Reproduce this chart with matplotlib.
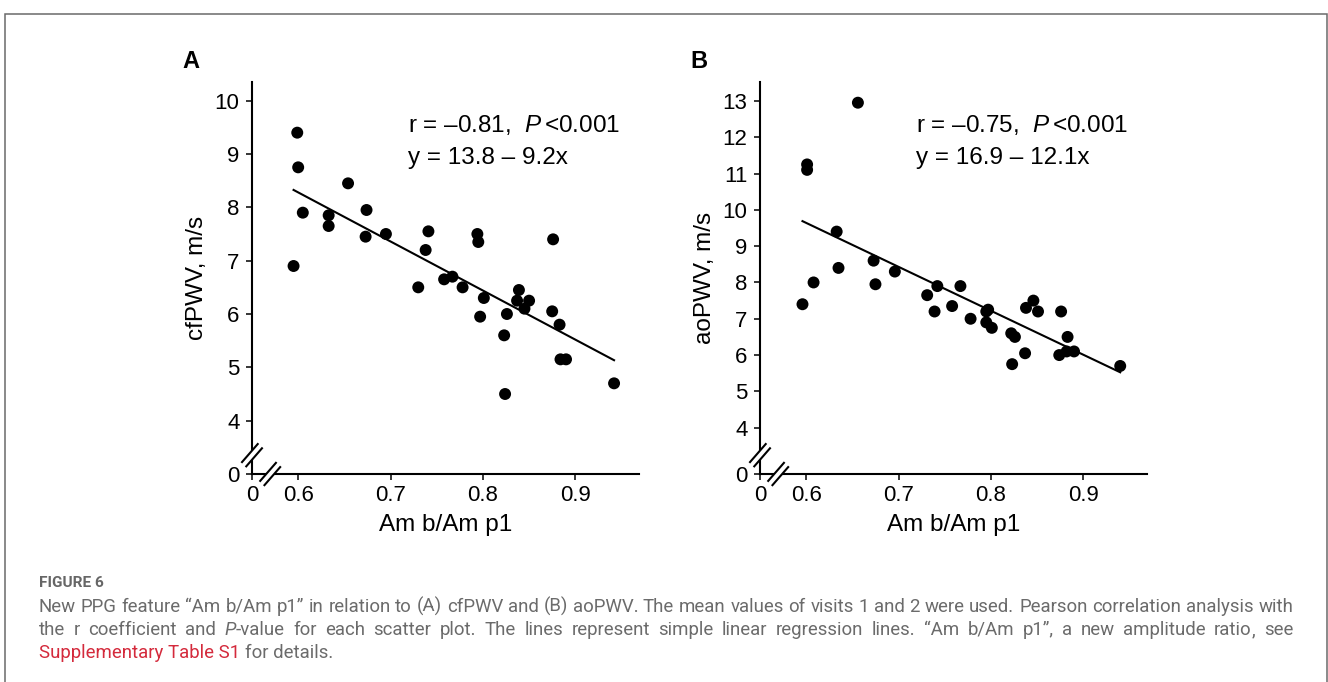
import matplotlib
matplotlib.use("Agg")
import matplotlib.pyplot as plt
import numpy as np
from matplotlib.lines import Line2D
from matplotlib.patches import Rectangle, Polygon

plt.rcParams['font.family'] = ['Liberation Sans', 'DejaVu Sans']
plt.rcParams['mathtext.fontset'] = 'custom'
plt.rcParams['mathtext.rm'] = 'Liberation Sans'
plt.rcParams['mathtext.it'] = 'Liberation Sans:italic'

# ---------------- data ----------------
ratio_a = [0.595, 0.599, 0.600, 0.605, 0.633, 0.633, 0.654, 0.674, 0.673, 0.695,
           0.730, 0.738, 0.741, 0.758, 0.767, 0.778, 0.794, 0.795, 0.797, 0.801,
           0.823, 0.826, 0.824, 0.837, 0.839, 0.845, 0.850, 0.876, 0.875, 0.883,
           0.884, 0.890, 0.942]
cfpwv = [6.90, 9.40, 8.75, 7.90, 7.85, 7.65, 8.45, 7.95, 7.45, 7.50,
         6.50, 7.20, 7.55, 6.65, 6.70, 6.50, 7.50, 7.35, 5.95, 6.30,
         5.60, 6.00, 4.50, 6.25, 6.45, 6.10, 6.25, 7.40, 6.05, 5.80,
         5.15, 5.15, 4.70]

ratio_b = [0.596, 0.601, 0.601, 0.608, 0.633, 0.635, 0.656, 0.673, 0.675, 0.696,
           0.731, 0.739, 0.742, 0.758, 0.767, 0.778, 0.795, 0.797, 0.795, 0.801,
           0.822, 0.826, 0.823, 0.837, 0.838, 0.846, 0.851, 0.876, 0.874, 0.883,
           0.882, 0.890, 0.940]
aopwv = [7.40, 11.25, 11.10, 8.00, 9.40, 8.40, 12.95, 8.60, 7.95, 8.30,
         7.65, 7.20, 7.90, 7.35, 7.90, 7.00, 7.20, 7.25, 6.90, 6.75,
         6.60, 6.50, 5.75, 6.05, 7.30, 7.50, 7.20, 7.20, 6.00, 6.50,
         6.10, 6.10, 5.70]

fit_a = (13.8, -9.2)     # intercept, slope
fit_b = (16.9, -12.1)
stats_a = ("–0.81", "<0.001")
stats_b = ("–0.75", "<0.001")

x_ticks = [0.6, 0.7, 0.8, 0.9]
y_ticks_a = [4, 5, 6, 7, 8, 9, 10]
y_ticks_b = [4, 5, 6, 7, 8, 9, 10, 11, 12, 13]

W, H = 1328, 682
fig = plt.figure(figsize=(W / 100, H / 100), dpi=100)
fig.patch.set_facecolor('white')

# border frame
fig.patches.append(Rectangle((4.5 / W, -0.05), (1327 - 4.5) / W, 1.05 - 13.5 / H,
                             transform=fig.transFigure, fill=False,
                             edgecolor='#6a6a6a', linewidth=1.1))

FS_TICK = 16
FS_LAB = 17.5
xlim = (0.55, 0.969)


def px_to_fig(x, y):
    return x / W, 1 - y / H


def draw_break(ax, axis):
    if axis == 'y':
        cx, cy = ax.transAxes.transform((0.0, 0.048))
    else:
        cx, cy = ax.transAxes.transform((0.047, 0.0))
    d = np.array([1.0, 1.15]) / np.hypot(1.0, 1.15)
    p = np.array([1.0, -1.0]) / np.sqrt(2)
    L = 13.0
    off = 3.0
    c = np.array([cx, cy])
    a1 = c - p * off - d * L
    b1 = c - p * off + d * L
    a2 = c + p * off - d * L
    b2 = c + p * off + d * L
    tf = fig.transFigure.inverted()
    poly = Polygon(tf.transform([a1, b1, b2, a2]), closed=True, facecolor='white',
                   edgecolor='none', transform=fig.transFigure, zorder=10)
    fig.add_artist(poly)
    for a, b in ((a1, b1), (a2, b2)):
        pts = tf.transform([a, b])
        fig.add_artist(Line2D(pts[:, 0], pts[:, 1], color='black', lw=1.5,
                              transform=fig.transFigure, zorder=11,
                              solid_capstyle='butt'))


def panel(rect, xs, ys, fit, stats, yticks, ylim, ylabel):
    ax = fig.add_axes(rect)
    ax.set_xlim(*xlim)
    ax.set_ylim(*ylim)
    for s in ('top', 'right'):
        ax.spines[s].set_visible(False)
    for s in ('left', 'bottom'):
        ax.spines[s].set_linewidth(1.5)
    ax.set_xticks([xlim[0]] + x_ticks)
    ax.set_xticklabels(['0'] + [f"{v:.1f}" for v in x_ticks])
    ax.set_yticks([ylim[0]] + yticks)
    ax.set_yticklabels(['0'] + [str(v) for v in yticks])
    ax.tick_params(axis='both', length=4, width=1.1, labelsize=FS_TICK, color='black')
    ax.tick_params(axis='y', pad=5)
    ax.tick_params(axis='x', pad=4)
    xf = np.array([min(xs), max(xs)])
    ax.plot(xf, fit[0] + fit[1] * xf, color='black', lw=1.5, zorder=2)
    ax.scatter(xs, ys, s=74, color='black', edgecolors='none', zorder=3, clip_on=False)
    ax.text(0.403, 0.89, f"r = {stats[0]},  $\\mathit{{P}}\\,${stats[1]}",
            transform=ax.transAxes, fontsize=FS_LAB, ha='left', va='center')
    ax.text(0.403, 0.806, f"y = {fit[0]:.1f} – {abs(fit[1]):.1f}x",
            transform=ax.transAxes, fontsize=FS_LAB, ha='left', va='center')
    ax.text(-0.142, 0.5, ylabel, transform=ax.transAxes, rotation=90,
            fontsize=FS_LAB, ha='center', va='center')
    ax.text(0.5, -0.13, "Am b/Am p1", transform=ax.transAxes,
            fontsize=FS_LAB, ha='center', va='center')
    return ax


axw, axh = 387 / W, 392 / H
axb = 208 / H
ax_a = panel([252 / W, axb, axw, axh], ratio_a, cfpwv, fit_a, stats_a,
             y_ticks_a, (3.0, 10.35), "cfPWV, m/s")
ax_b = panel([760 / W, axb, axw, axh], ratio_b, aopwv, fit_b, stats_b,
             y_ticks_b, (2.725, 13.52), "aoPWV, m/s")

for ax in (ax_a, ax_b):
    draw_break(ax, 'y')
    draw_break(ax, 'x')

fig.text(*px_to_fig(182, 61.5), "A", fontsize=17, fontweight='bold', ha='left', va='center')
fig.text(*px_to_fig(690, 61.5), "B", fontsize=17, fontweight='bold', ha='left', va='center')

# ---------------- caption ----------------
renderer = fig.canvas.get_renderer()
CAP_FONT = ['Roboto', 'DejaVu Sans']
GRAY = '#6b6b6b'
RED = '#d42a3c'


def width_of(s, **kw):
    t = fig.text(0, 0, s, **kw)
    w = t.get_window_extent(renderer).width
    t.remove()
    return w


base = dict(family=CAP_FONT, fontsize=12)
w3 = width_of("Supplementary Table S1 for details.", **base)
cap_fs = 12 * 294.0 / w3
capkw = dict(family=CAP_FONT, fontsize=cap_fs, color=GRAY)

fkw = dict(family=CAP_FONT, fontsize=10, fontweight='bold', color='#666666')
wf = width_of("FIGURE 6", **fkw)
fkw['fontsize'] = 10 * 64.0 / wf
fig.text(*px_to_fig(39, 586.7), "FIGURE 6", va='baseline', ha='left', **fkw)

line1 = ("New PPG feature “Am b/Am p1” in relation to (A) cfPWV and (B) aoPWV. The mean "
         "values of visits 1 and 2 were used. Pearson correlation analysis with")
line2 = ("the r coefficient and P-value for each scatter plot. The lines represent simple "
         "linear regression lines. “Am b/Am p1”, a new amplitude ratio, see")


def put(x, y, s, **kw):
    # place text so its baseline sits at pixel row y, using a reference
    # glyph pair to keep every word on an identical baseline
    t = fig.text(*px_to_fig(x, y), s + "|", va='baseline', ha='left', alpha=0, **kw)
    t.remove()
    fig.text(*px_to_fig(x, y), s, va='baseline', ha='left', **kw)


def justify(text, y, x0=39, x1=1293, italic_tokens=()):
    words = text.split(' ')
    widths = []
    for wd in words:
        if wd in italic_tokens:
            w = width_of(wd[0], style='italic', **capkw) + width_of(wd[1:], **capkw)
        else:
            w = width_of(wd, **capkw)
        widths.append(w)
    gap = (x1 - x0 - sum(widths)) / (len(words) - 1)
    x = x0
    for wd, w in zip(words, widths):
        if wd in italic_tokens:
            fig.text(*px_to_fig(x, y), wd[0], style='italic', va='baseline', ha='left', **capkw)
            wi = width_of(wd[0], style='italic', **capkw)
            fig.text(*px_to_fig(x + wi, y), wd[1:], va='baseline', ha='left', **capkw)
        elif wd.endswith(',') and not any(ch in wd for ch in 'gjpqy'):
            core = wd[:-1]
            fig.text(*px_to_fig(x, y), core, va='baseline', ha='left', **capkw)
            wc = width_of(core, **capkw)
            fig.text(*px_to_fig(x + wc, y), ",", va='baseline', ha='left', **capkw)
        else:
            fig.text(*px_to_fig(x, y), wd, va='baseline', ha='left', **capkw)
        x += w + gap


justify(line1, 611.5)
justify(line2, 635.0, italic_tokens=("P-value",))

red_txt = "Supplementary Table S1"
rk = dict(capkw)
rk['color'] = RED
fig.text(*px_to_fig(39, 658.3), red_txt, va='baseline', ha='left', **rk)
wr = width_of(red_txt, **capkw)
wsp = width_of("a a", **capkw) - 2 * width_of("a", **capkw)
fig.text(*px_to_fig(39 + wr + wsp, 658.3), "for details.", va='baseline', ha='left', **capkw)

fig.savefig("out.png", dpi=100, facecolor='white')
